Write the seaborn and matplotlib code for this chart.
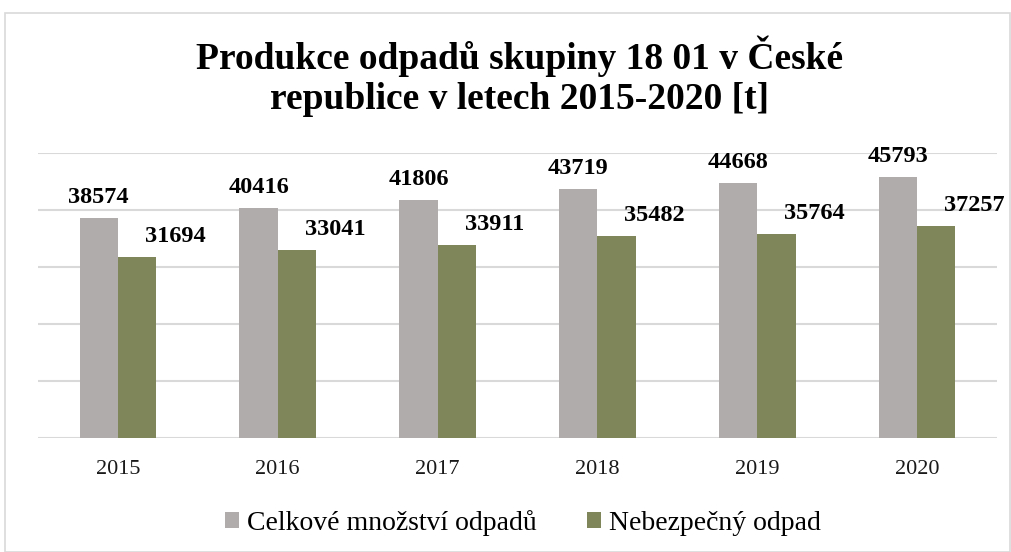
import matplotlib
matplotlib.use("Agg")
import matplotlib.pyplot as plt
import seaborn as sns
import pandas as pd
from matplotlib.patches import Rectangle

years = ["2015", "2016", "2017", "2018", "2019", "2020"]
celkove = [38574, 40416, 41806, 43719, 44668, 45793]
nebezpecny = [31694, 33041, 33911, 35482, 35764, 37257]
series_names = ["Celkové množství odpadů", "Nebezpečný odpad"]
title = "Produkce odpadů skupiny 18 01 v České\nrepublice v letech 2015-2020 [t]"

df = pd.DataFrame({
    "rok": years * 2,
    "hodnota": celkove + nebezpecny,
    "serie": [series_names[0]] * len(years) + [series_names[1]] * len(years),
})

sns.set_theme(style="white")
plt.rcParams["font.family"] = ["Liberation Serif", "DejaVu Serif"]
plt.rcParams["text.color"] = "black"
plt.rcParams["xtick.color"] = "black"

colors = ["#b0acac", "#7f865a"]

fig = plt.figure(figsize=(10.12, 5.52), dpi=100)
W, H = 1012, 552
ax = fig.add_axes([38 / W, (H - 438) / H, (997 - 38) / W, (438 - 153) / H])

sns.barplot(data=df, x="rok", y="hodnota", hue="serie", palette=colors,
            width=0.48, ax=ax, legend=True, saturation=1, linewidth=0)

ax.set_ylim(0, 50000)
ax.set_yticks(range(0, 50001, 10000))
ax.yaxis.grid(True, color="#d9d9d9", linewidth=1.5)
ax.set_axisbelow(True)
ax.tick_params(axis="y", left=False, labelleft=False)
ax.tick_params(axis="x", bottom=False, labelsize=16, pad=10, labelcolor="#1a1a1a")
for s in ax.spines.values():
    s.set_visible(False)
ax.set_xlabel("")
ax.set_ylabel("")

for i, v in enumerate(celkove):
    bar = ax.patches[i]
    cx = bar.get_x() + bar.get_width() / 2
    ax.annotate(str(v), (cx, v), xytext=(0, 15), textcoords="offset pixels",
                ha="center", va="baseline", fontsize=17.5, fontweight="bold", color="black")
for i, v in enumerate(nebezpecny):
    bar = ax.patches[len(years) + i]
    cx = bar.get_x() + bar.get_width() / 2
    ax.annotate(str(v), (cx, v), xytext=(38, 15), textcoords="offset pixels",
                ha="center", va="baseline", fontsize=17.5, fontweight="bold", color="black")

handles, labels = ax.get_legend_handles_labels()
ax.legend_.remove()
leg = fig.legend(handles, labels, loc="center", bbox_to_anchor=(0.517, (H - 523) / H),
                 ncol=2, frameon=False, fontsize=20, handlelength=0.5, handleheight=0.5,
                 handletextpad=0.3, columnspacing=1.8)
for t in leg.get_texts():
    t.set_color("black")

fig.text(0.513, (H - 76) / H, title, ha="center", va="center", fontsize=27,
         fontweight="bold", linespacing=1.2, color="black")

fig.patches.append(Rectangle((5 / W, 0), (1010 - 5) / W, (H - 13) / H,
                             transform=fig.transFigure, fill=False,
                             edgecolor="#d9d9d9", linewidth=1.2))

fig.savefig("out.png", dpi=100)
